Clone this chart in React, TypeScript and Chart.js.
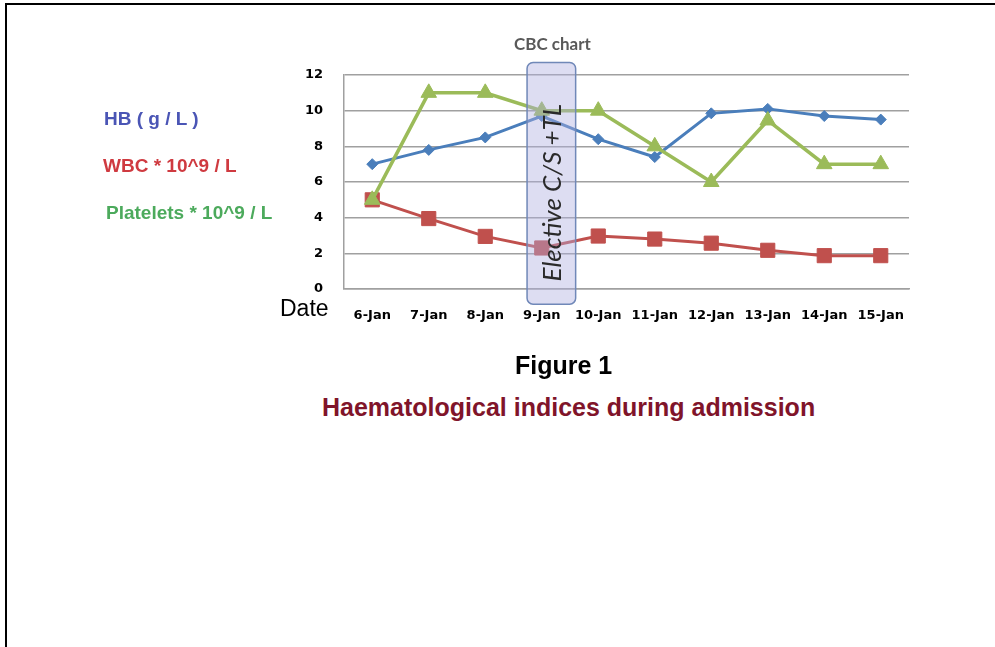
import React, { useEffect, useRef } from 'react';
import { Chart, registerables } from 'chart.js';

Chart.register(...registerables);

const CATEGORIES = ['6-Jan', '7-Jan', '8-Jan', '9-Jan', '10-Jan', '11-Jan', '12-Jan', '13-Jan', '14-Jan', '15-Jan'];
const HB = [7.0, 7.8, 8.5, 9.7, 8.4, 7.4, 9.85, 10.1, 9.7, 9.5];
const WBC = [5.0, 3.95, 2.95, 2.3, 2.97, 2.8, 2.57, 2.17, 1.87, 1.87];
const PLATELETS = [5.0, 11.0, 11.0, 10.0, 10.0, 8.0, 6.0, 9.45, 7.0, 7.0];
const SERIES_LABELS = ['HB ( g / L )', 'WBC * 10^9 / L', 'Platelets * 10^9 / L'];

const Y_MIN = 0;
const Y_MAX = 12;
const Y_STEP = 2;

const CHART_TITLE = 'CBC chart';
const X_AXIS_TITLE = 'Date';
const ANNOTATION_TEXT = 'Elective C/S +TL';
const ANNOTATION_X = [2.74, 3.6];
const ANNOTATION_Y = [12.7, -0.85];
const ANNOTATION_TEXT_Y = 5.4;
const FIGURE_LABEL = 'Figure 1';
const FIGURE_CAPTION = 'Haematological indices during admission';

const electivePlugin = {
  id: 'elective',
  afterDatasetsDraw(chart: any) {
    const { ctx, scales } = chart;
    const xs = scales.x;
    const ys = scales.y;
    const x1 = xs.getPixelForValue(ANNOTATION_X[0]);
    const x2 = xs.getPixelForValue(ANNOTATION_X[1]);
    const y1 = ys.getPixelForValue(ANNOTATION_Y[0]);
    const y2 = ys.getPixelForValue(ANNOTATION_Y[1]);
    ctx.save();
    ctx.beginPath();
    ctx.roundRect(x1, y1, x2 - x1, y2 - y1, 6);
    ctx.fillStyle = 'rgba(175,175,225,0.42)';
    ctx.fill();
    ctx.lineWidth = 1.5;
    ctx.strokeStyle = '#7088b8';
    ctx.stroke();
    ctx.translate((x1 + x2) / 2 + 1, ys.getPixelForValue(ANNOTATION_TEXT_Y));
    ctx.rotate(-Math.PI / 2);
    ctx.font = 'italic 26px Lato';
    ctx.fillStyle = '#2a2a2a';
    ctx.textAlign = 'center';
    ctx.textBaseline = 'middle';
    ctx.fillText(ANNOTATION_TEXT, 0, 0);
    ctx.restore();
  },
};

const LEGEND_COLORS = ['#4a55b5', '#cf3a40', '#4caa5c'];
const LEGEND_TOPS = [109, 156, 203];
const LEGEND_LEFTS = [104, 103, 106];

export default function App() {
  const canvasRef = useRef<HTMLCanvasElement | null>(null);

  useEffect(() => {
    if (!canvasRef.current) return;
    const chart = new Chart(canvasRef.current, {
      type: 'line',
      data: {
        labels: CATEGORIES,
        datasets: [
          {
            label: SERIES_LABELS[0],
            data: HB,
            borderColor: '#4a7ebb',
            backgroundColor: '#4a7ebb',
            borderWidth: 3,
            pointStyle: 'rectRot',
            pointRadius: 5.5,
            pointBorderWidth: 1,
            tension: 0,
            order: 3,
          },
          {
            label: SERIES_LABELS[1],
            data: WBC,
            borderColor: '#c0504d',
            backgroundColor: '#c0504d',
            borderWidth: 3,
            pointStyle: 'rect',
            pointRadius: 10,
            pointBorderWidth: 1,
            tension: 0,
            order: 2,
          },
          {
            label: SERIES_LABELS[2],
            data: PLATELETS,
            borderColor: '#9bbb59',
            backgroundColor: '#9bbb59',
            borderWidth: 3.5,
            pointStyle: 'triangle',
            pointRadius: 9,
            pointBorderWidth: 1,
            tension: 0,
            order: 1,
          },
        ],
      },
      options: {
        animation: false,
        responsive: false,
        devicePixelRatio: 1,
        layout: { padding: { left: 244, right: 86, top: 75, bottom: 21 } },
        plugins: {
          legend: { display: false },
          title: { display: false },
          tooltip: { enabled: false },
        },
        scales: {
          x: {
            type: 'category',
            offset: true,
            grid: { display: false, drawTicks: false },
            border: { display: true, color: '#a0a0a0', width: 1.5 },
            ticks: {
              color: '#000',
              padding: 19,
              maxRotation: 0,
              autoSkip: false,
              font: { family: 'DejaVu Sans', weight: 'bold', size: 13 },
            },
            afterFit: (s: any) => {
              s.height = 50;
            },
          },
          y: {
            min: Y_MIN,
            max: Y_MAX,
            ticks: {
              stepSize: Y_STEP,
              color: '#000',
              padding: 21,
              font: { family: 'DejaVu Sans', weight: 'bold', size: 13 },
            },
            grid: { color: '#a0a0a0', lineWidth: 1.5, drawTicks: false },
            border: { display: true, color: '#a0a0a0', width: 1.5 },
            afterFit: (s: any) => {
              s.width = 100;
            },
          },
        },
      },
      plugins: [electivePlugin],
    } as any);
    return () => chart.destroy();
  }, []);

  return (
    <div style={{ position: 'fixed', left: 0, top: 0, width: 995, height: 647, background: '#fff', overflow: 'hidden' }}>
      <div style={{ position: 'absolute', left: 5, top: 3, width: 1000, height: 700, borderLeft: '2px solid #000', borderTop: '2px solid #000' }} />
      <canvas ref={canvasRef} width={995} height={360} style={{ position: 'absolute', left: 0, top: 0, width: 995, height: 360 }} />
      <div style={{ position: 'absolute', left: 514, top: 35, fontFamily: 'Lato', fontWeight: 'bold', fontSize: 17, lineHeight: 1, color: '#595959' }}>{CHART_TITLE}</div>
      {SERIES_LABELS.map((t, i) => (
        <div key={t} style={{ position: 'absolute', left: LEGEND_LEFTS[i], top: LEGEND_TOPS[i], fontFamily: '"Liberation Sans", Arial, sans-serif', fontWeight: 'bold', fontSize: 19, lineHeight: 1, color: LEGEND_COLORS[i], whiteSpace: 'pre' }}>{t}</div>
      ))}
      <div style={{ position: 'absolute', left: 280, top: 297, fontFamily: '"Liberation Sans", Arial, sans-serif', fontSize: 23, lineHeight: 1, color: '#000' }}>{X_AXIS_TITLE}</div>
      <div style={{ position: 'absolute', left: 515, top: 353, fontFamily: '"Liberation Sans", Arial, sans-serif', fontWeight: 'bold', fontSize: 25, lineHeight: 1, color: '#000' }}>{FIGURE_LABEL}</div>
      <div style={{ position: 'absolute', left: 322, top: 395, fontFamily: '"Liberation Sans", Arial, sans-serif', fontWeight: 'bold', fontSize: 25, lineHeight: 1, color: '#80142a', whiteSpace: 'pre' }}>{FIGURE_CAPTION}</div>
    </div>
  );
}
